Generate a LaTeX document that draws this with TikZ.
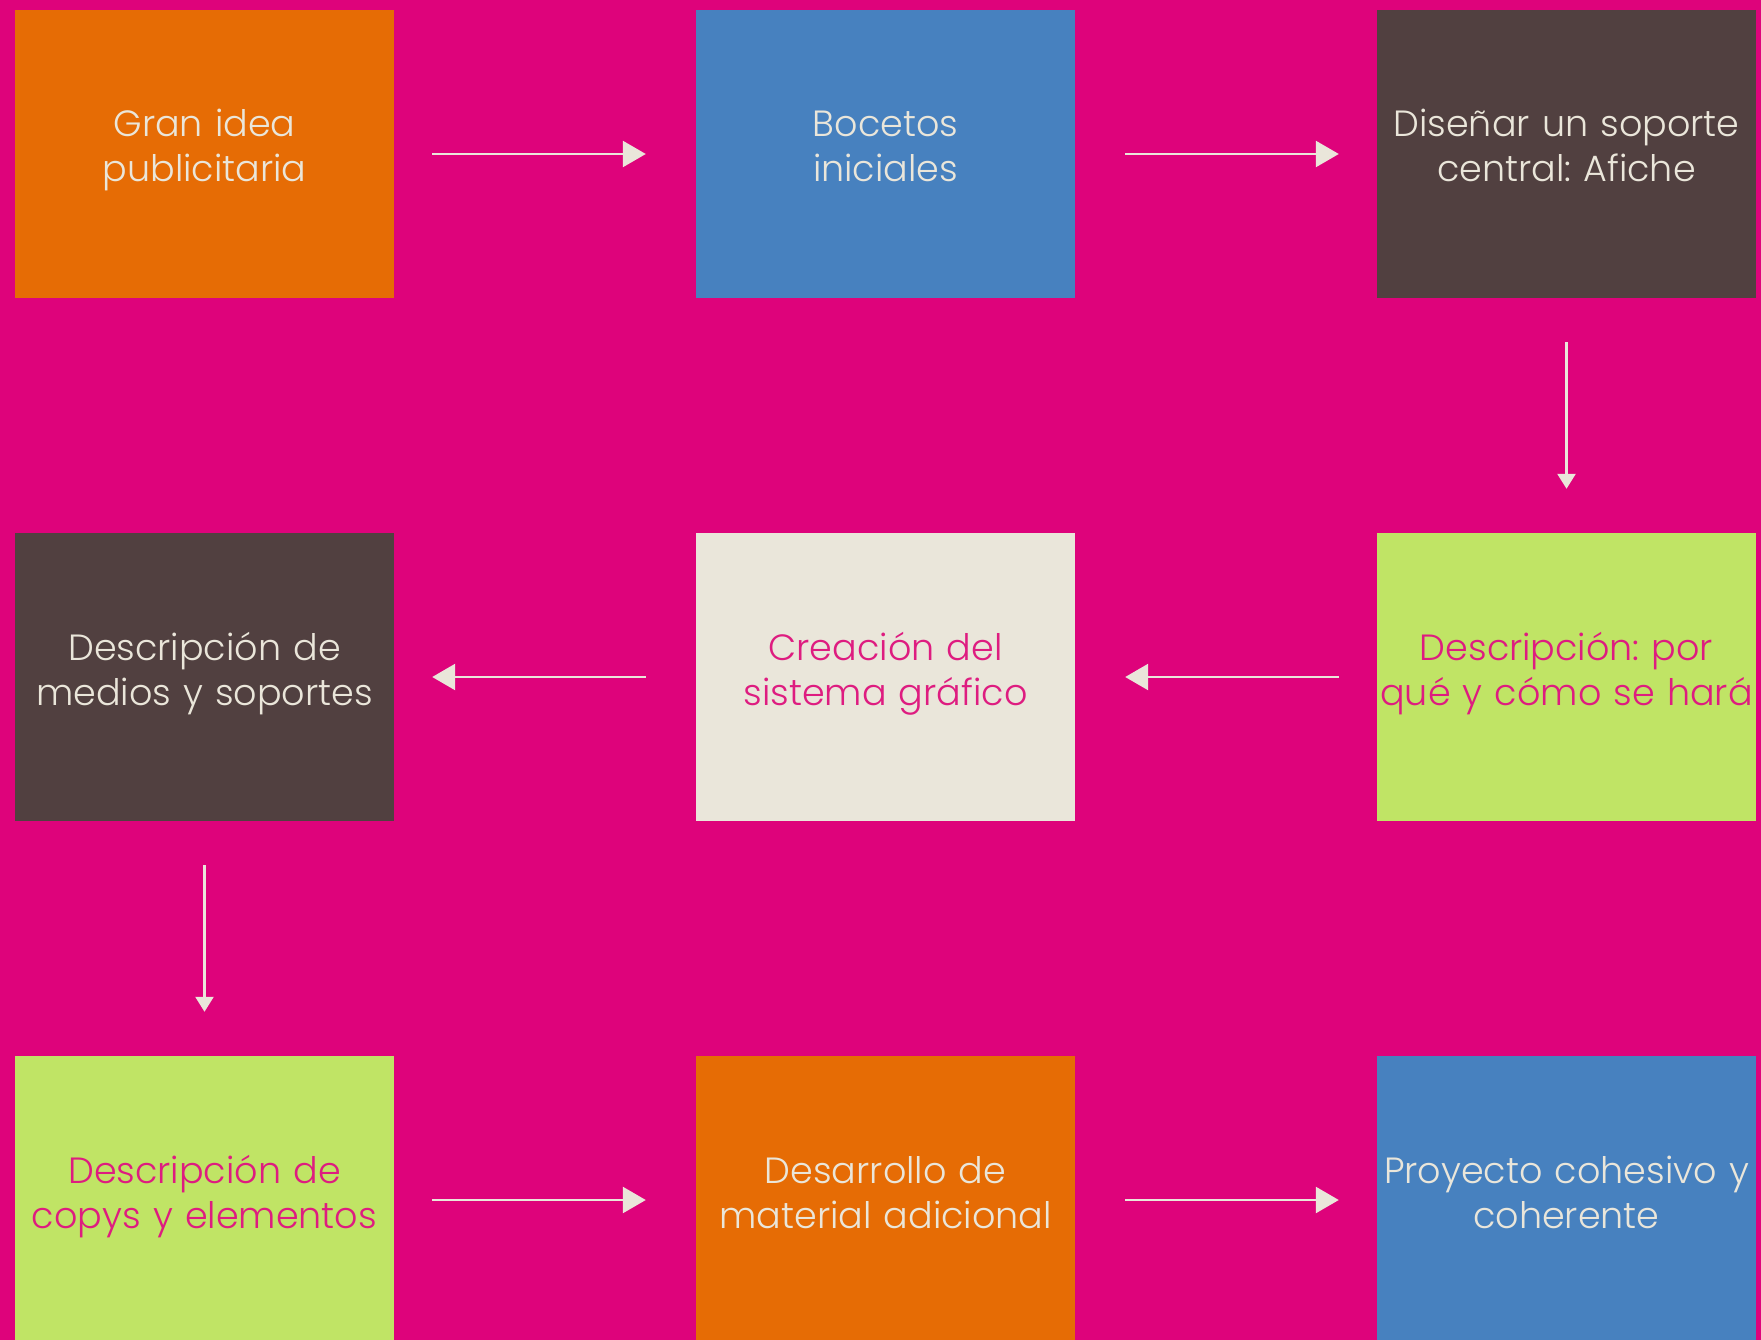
\documentclass[tikz,border=0pt]{standalone}
\usepackage{fontspec}
\setmainfont{Poppins}[UprightFont={* Light}]
\usetikzlibrary{arrows.meta}
\frenchspacing
\definecolor{bgmag}{HTML}{DE037B}
\definecolor{corange}{HTML}{E66C05}
\definecolor{cblue}{HTML}{4781BF}
\definecolor{cbrown}{HTML}{514040}
\definecolor{cbeige}{HTML}{EAE6DA}
\definecolor{cgreen}{HTML}{C0E465}
\definecolor{cpink}{HTML}{DE1C80}
\newcommand{\twoline}[2]{\strut #1\\\strut #2\rule[-20.5pt]{0pt}{1pt}}
\tikzset{
  box/.style={rectangle, minimum width=379pt, minimum height=288pt,
    inner xsep=-30.5pt, inner ysep=0pt,
    align=center, text width=440pt, font=\fontsize{36.5}{45}\selectfont},
  lighttext/.style={text=cbeige},
  pinktext/.style={text=cpink},
  flowh/.style={draw=cbeige, line width=2.5pt, -{Triangle[length=23pt,width=26pt]}},
  gapone/.style={shorten <=38pt, shorten >=50pt},
  gaptwo/.style={shorten <=50pt, shorten >=38pt},
  flowv/.style={draw=cbeige, line width=2.5pt, -{Triangle[length=15pt,width=18pt]},
    shorten <=44pt, shorten >=44pt}
}
\begin{document}
\begin{tikzpicture}[x=1pt,y=-1pt]
\useasboundingbox (0,0) rectangle (1761,1340);
\fill[bgmag] (0,0) rectangle (1761,1340);
\begin{scope}
\clip (0,0) rectangle (1761,1340);
\node[box, fill=corange, lighttext] (b1) at (204.5,154) {\twoline{Gran idea}{publicitaria}};
\node[box, fill=cblue, lighttext] (b2) at (885.5,154) {\twoline{Bocetos}{iniciales}};
\node[box, fill=cbrown, lighttext] (b3) at (1566.5,154) {\twoline{Diseñar un soporte}{central: Afiche}};
\node[box, fill=cgreen, pinktext] (b6) at (1566.5,677) {\twoline{Descripción: por}{qué y cómo se hará}};
\node[box, fill=cbeige, pinktext] (b5) at (885.5,677) {\twoline{Creación del}{sistema gráfico}};
\node[box, fill=cbrown, lighttext] (b4) at (204.5,677) {\twoline{Descripción de}{medios y soportes}};
\node[box, fill=cgreen, pinktext] (b7) at (204.5,1200) {\twoline{Descripción de}{copys y elementos}};
\node[box, fill=corange, lighttext] (b8) at (885.5,1200) {\twoline{Desarrollo de}{material adicional}};
\node[box, fill=cblue, lighttext] (b9) at (1566.5,1200) {\twoline{Proyecto cohesivo y}{coherente}};
\end{scope}
\draw[flowh, gapone] (b1) -- (b2);
\draw[flowh, gaptwo] (b2) -- (b3);
\draw[flowv] (b3) -- (b6);
\draw[flowh, shorten <=38pt, shorten >=50pt] (b6) -- (b5);
\draw[flowh, shorten <=50pt, shorten >=38pt] (b5) -- (b4);
\draw[flowv] (b4) -- (b7);
\draw[flowh, gapone] (b7) -- (b8);
\draw[flowh, gaptwo] (b8) -- (b9);
\end{tikzpicture}
\end{document}
